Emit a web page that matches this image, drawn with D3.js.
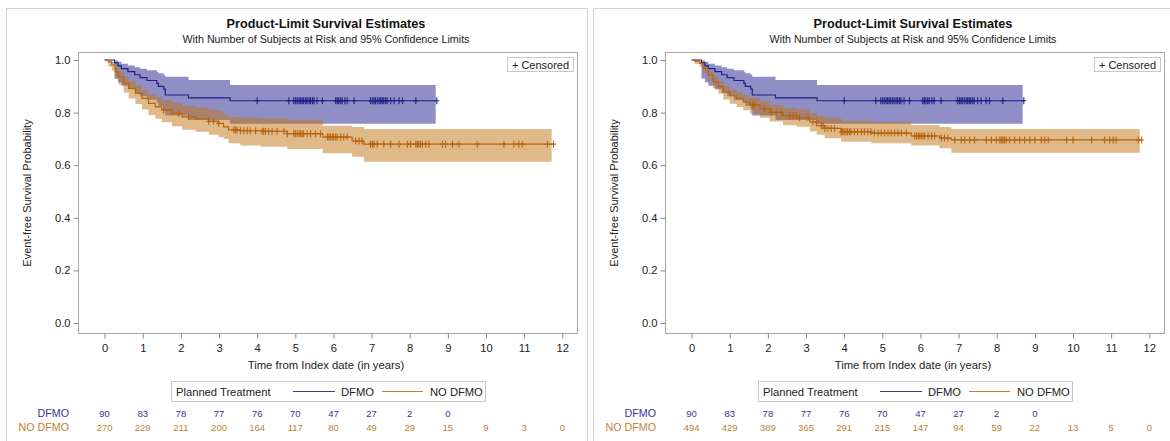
<!DOCTYPE html>
<html><head><meta charset="utf-8">
<script src="https://cdn.jsdelivr.net/npm/d3@7"></script>
<style>body{margin:0;background:#fff;} svg{display:block;font-family:"Liberation Sans",Arial,sans-serif;}</style>
</head><body><svg id="c" width="1170" height="441"></svg>
<script>
// ---------- data ----------
const timeTicks = [0,1,2,3,4,5,6,7,8,9,10,11,12];
const survTicks = [0,0.2,0.4,0.6,0.8,1.0];
const groupNames = ["DFMO","NO DFMO"];
const titleText = "Product-Limit Survival Estimates";
const subtitleText = "With Number of Subjects at Risk and 95% Confidence Limits";
const xTitle = "Time from Index date (in years)";
const yTitle = "Event-free Survival Probability";
const legendTitle = "Planned Treatment";

// DFMO (same in both panels)
const dfmoTime  = [0, 0.26, 0.35, 0.44, 0.61, 0.79, 0.93, 1.11, 1.37, 1.41, 1.55, 1.59, 2.20, 3.29];
const dfmoSurv  = [1, 0.989, 0.978, 0.967, 0.956, 0.944, 0.933, 0.922, 0.911, 0.900, 0.889, 0.867, 0.856, 0.845];
const dfmoUpper = [1, 0.998, 0.993, 0.986, 0.979, 0.972, 0.967, 0.961, 0.955, 0.950, 0.944, 0.936, 0.924, 0.905];
const dfmoLower = [1, 0.930, 0.915, 0.902, 0.889, 0.875, 0.862, 0.849, 0.837, 0.825, 0.812, 0.789, 0.772, 0.758];
const dfmoLast = 8.72, dfmoBandLast = 8.68;
const dfmoCensored = [4.0, 4.83, 4.96, 5.01, 5.05, 5.1, 5.14, 5.18, 5.22, 5.27, 5.31, 5.36, 5.4, 5.45, 5.49, 5.57, 5.71,
  6.06, 6.1, 6.14, 6.19, 6.23, 6.3, 6.36, 6.54, 6.97, 7.02, 7.06, 7.1, 7.15, 7.2, 7.24, 7.28, 7.32, 7.37, 7.41, 7.5, 7.59,
  7.72, 7.81, 8.16, 8.71];
const dfmoAtRisk = [90,83,78,77,76,70,47,27,2,0];

// NO DFMO, left panel
const leftNoTime  = [0, 0.10, 0.19, 0.28, 0.37, 0.50, 0.63, 0.81, 0.98, 1.15, 1.33, 1.50, 1.77, 2.03, 2.38, 2.73, 2.99, 3.12, 3.25, 3.56, 4.09, 4.79, 5.72, 6.49, 6.80];
const leftNoSurv  = [1, 0.993, 0.981, 0.955, 0.937, 0.911, 0.892, 0.873, 0.854, 0.835, 0.822, 0.810, 0.797, 0.784, 0.776, 0.767, 0.759, 0.746, 0.734, 0.731, 0.729, 0.720, 0.707, 0.692, 0.680];
const leftNoLower = [1, 0.975, 0.960, 0.928, 0.906, 0.876, 0.854, 0.833, 0.812, 0.791, 0.777, 0.763, 0.748, 0.735, 0.727, 0.716, 0.707, 0.700, 0.683, 0.675, 0.670, 0.662, 0.645, 0.632, 0.613];
const leftNoUpper = [1, 0.998, 0.992, 0.972, 0.958, 0.936, 0.920, 0.903, 0.886, 0.869, 0.858, 0.848, 0.837, 0.826, 0.819, 0.811, 0.804, 0.793, 0.782, 0.780, 0.778, 0.772, 0.750, 0.745, 0.738];
const leftNoLast = 11.77, leftNoBandLast = 11.72;
const leftNoCensored = [1.55, 1.94, 2.2, 2.73, 2.86, 2.99, 3.39, 3.43, 3.47, 3.56, 3.65, 3.74, 3.82, 3.96, 4.13, 4.17, 4.22, 4.3,
  4.39, 4.52, 4.7, 4.79, 4.96, 5.0, 5.05, 5.1, 5.14, 5.18, 5.22, 5.31, 5.4, 5.53, 5.66, 5.84, 5.88, 5.92, 5.97, 6.01, 6.06, 6.1,
  6.19, 6.27, 6.36, 6.58, 6.67, 6.75, 6.97, 7.02, 7.06, 7.15, 7.32, 7.5, 7.72, 7.94, 8.02, 8.16, 8.2, 8.24, 8.28, 8.33, 8.42,
  8.5, 8.86, 8.94, 9.12, 9.29, 9.77, 10.47, 10.73, 10.86, 10.95, 11.61, 11.77];
const leftNoAtRisk = [270,229,211,200,164,117,80,49,29,15,9,3,0];

// NO DFMO, right panel
const rightNoTime  = [0, 0.08, 0.21, 0.30, 0.43, 0.56, 0.70, 0.83, 1.00, 1.18, 1.35, 1.53, 1.79, 2.05, 2.40, 2.75, 3.10, 3.28, 3.49, 3.92, 4.71, 5.76, 6.50, 6.81];
const rightNoSurv  = [1, 0.996, 0.987, 0.968, 0.943, 0.918, 0.899, 0.879, 0.864, 0.852, 0.841, 0.829, 0.814, 0.801, 0.788, 0.781, 0.765, 0.750, 0.740, 0.727, 0.722, 0.711, 0.703, 0.696];
const rightNoLower = [1, 0.985, 0.974, 0.951, 0.921, 0.893, 0.872, 0.850, 0.834, 0.821, 0.809, 0.796, 0.780, 0.766, 0.752, 0.746, 0.728, 0.716, 0.702, 0.689, 0.683, 0.675, 0.664, 0.647];
const rightNoUpper = [1, 0.999, 0.993, 0.979, 0.958, 0.937, 0.920, 0.902, 0.888, 0.877, 0.867, 0.856, 0.842, 0.830, 0.818, 0.812, 0.797, 0.788, 0.780, 0.768, 0.764, 0.753, 0.745, 0.738];
const rightNoLast = 11.8, rightNoBandLast = 11.75;
const rightNoCensored = [1.6, 1.65, 1.91, 2.09, 2.22, 2.35, 2.57, 2.66, 2.74, 2.83, 3.05, 3.18, 3.27, 3.4, 3.45, 3.49, 3.57,
  3.66, 3.75, 3.92, 3.96, 4.0, 4.05, 4.09, 4.14, 4.18, 4.27, 4.35, 4.45, 4.53, 4.62, 4.7, 4.79, 4.89, 4.97, 5.06, 5.15, 5.23,
  5.32, 5.41, 5.5, 5.63, 5.85, 5.9, 5.94, 5.98, 6.02, 6.07, 6.11, 6.2, 6.29, 6.37, 6.55, 6.63, 6.72, 6.9, 7.07, 7.16, 7.29,
  7.42, 7.73, 7.86, 7.99, 8.08, 8.12, 8.16, 8.2, 8.25, 8.34, 8.47, 8.6, 8.73, 8.87, 9.0, 9.17, 9.26, 9.35, 9.83, 10.0,
  10.49, 10.83, 10.96, 11.05, 11.13, 11.71, 11.8];
const rightNoAtRisk = [494,429,389,365,291,215,147,94,59,22,13,5,0];

// ---------- styles ----------
const C = {
  dfmoLine: "#1f1f85", dfmoBand: "#20208c", dfmoText: "#36369a",
  noLine: "#b8640f", noBand: "#c07412", noText: "#c07f34",
  frame: "#a8a8a8", panel: "#d2d2d2", text: "#222"
};

const svg = d3.select("#c");

function stepAt(times, vals, t){
  const i = d3.bisectRight(times, t) - 1;
  return vals[Math.max(0, i)];
}

function drawPanel(dx, noTime, noSurv, noLower, noUpper, noLast, noBandLast, noCens, noRisk){
  const g = svg.append("g").attr("transform", `translate(${dx},0)`);
  g.append("rect").attr("x",6.5).attr("y",8.5).attr("width",581).attr("height",460)
    .attr("fill","#fff").attr("stroke",C.panel);

  const fx0 = 78.5, fx1 = 577.5, fy0 = 52.5, fy1 = 333.5;
  const x = d3.scaleLinear().domain([0,12]).range([104.6, 562.3]);
  const y = d3.scaleLinear().domain([0,1]).range([323, 60]);

  // titles
  const cx = (fx0+fx1)/2 - 2;
  g.append("text").attr("x",cx).attr("y",28).attr("text-anchor","middle")
    .attr("font-size",12.7).attr("font-weight","bold").attr("fill","#111").text(titleText);
  g.append("text").attr("x",cx).attr("y",43).attr("text-anchor","middle")
    .attr("font-size",10.7).attr("fill",C.text).text(subtitleText);

  // frame
  g.append("rect").attr("x",fx0).attr("y",fy0).attr("width",fx1-fx0).attr("height",fy1-fy0)
    .attr("fill","#fff").attr("stroke",C.frame);

  // axes
  const yAxis = d3.axisLeft(y).tickValues(survTicks).tickFormat(d3.format(".1f")).tickSize(5).tickPadding(3);
  const ya = g.append("g").attr("transform",`translate(${fx0},0)`).call(yAxis);
  const xAxis = d3.axisBottom(x).tickValues(timeTicks).tickSize(5).tickPadding(6);
  const xa = g.append("g").attr("transform",`translate(0,${fy1})`).call(xAxis);
  [ya, xa].forEach(a => {
    a.select(".domain").remove();
    a.selectAll("line").attr("stroke","#888");
    a.selectAll("text").attr("font-size",11.2).attr("fill",C.text).attr("font-family","Liberation Sans, Arial, sans-serif");
  });

  g.append("text").attr("x",cx).attr("y",369).attr("text-anchor","middle")
    .attr("font-size",11.3).attr("fill",C.text).text(xTitle);
  g.append("text").attr("transform",`translate(31,${(fy0+fy1)/2}) rotate(-90)`).attr("text-anchor","middle")
    .attr("font-size",11).attr("fill",C.text).text(yTitle);

  // clip
  const clipId = "clip" + dx;
  g.append("clipPath").attr("id",clipId).append("rect")
    .attr("x",fx0).attr("y",fy0).attr("width",fx1-fx0).attr("height",fy1-fy0);
  const pg = g.append("g").attr("clip-path",`url(#${clipId})`);

  const series = [
    {t:dfmoTime, s:dfmoSurv, lo:dfmoLower, hi:dfmoUpper, last:dfmoLast, bandLast:dfmoBandLast, cens:dfmoCensored, line:C.dfmoLine, band:C.dfmoBand},
    {t:noTime, s:noSurv, lo:noLower, hi:noUpper, last:noLast, bandLast:noBandLast, cens:noCens, line:C.noLine, band:C.noBand}
  ];

  // bands
  series.forEach(se => {
    const pts = se.t.map((t,i) => ({t, s:se.s[i], lo:se.lo[i], hi:se.hi[i]}));
    const lastP = pts[pts.length-1];
    pts.push({t:se.bandLast, s:lastP.s, lo:lastP.lo, hi:lastP.hi});
    const area = d3.area().curve(d3.curveStepAfter)
      .x(d => x(d.t)).y0(d => y(d.lo)).y1(d => y(d.hi));
    pg.append("path").attr("d", area(pts)).attr("fill", se.band).attr("fill-opacity",0.5).attr("stroke","none");
  });

  // lines + censor marks
  series.forEach(se => {
    const pts = se.t.map((t,i) => ({t, s:se.s[i]}));
    pts.push({t:se.last, s:se.s[se.s.length-1]});
    const line = d3.line().curve(d3.curveStepAfter).x(d => x(d.t)).y(d => y(d.s));
    pg.append("path").attr("d", line(pts)).attr("fill","none").attr("stroke",se.line).attr("stroke-width",1.2);
    const hx = 2.5, hy = 3.5;
    pg.append("g").selectAll("path").data(se.cens).join("path")
      .attr("d", t => {
        const px = x(t), py = y(stepAt(se.t, se.s, t));
        return `M${px-hx},${py}H${px+hx}M${px},${py-hy}V${py+hy}`;
      })
      .attr("stroke", se.line).attr("stroke-width",1.1).attr("fill","none");
  });

  // censored legend
  g.append("rect").attr("x",507.5).attr("y",57.5).attr("width",66).attr("height",14)
    .attr("fill","#fff").attr("stroke","#c8c8c8");
  g.append("text").attr("x",540.5).attr("y",68.5).attr("text-anchor","middle")
    .attr("font-size",11).attr("fill",C.text).text("+ Censored");

  // group legend
  g.append("rect").attr("x",171.5).attr("y",381.5).attr("width",314).attr("height",20)
    .attr("fill","#fff").attr("stroke","#c8c8c8");
  g.append("text").attr("x",176).attr("y",395.5).attr("font-size",11.2).attr("fill",C.text).text(legendTitle);
  g.append("line").attr("x1",293).attr("x2",335).attr("y1",391.5).attr("y2",391.5).attr("stroke","#3a3a98").attr("stroke-width",1.2);
  g.append("text").attr("x",341).attr("y",395.5).attr("font-size",11.2).attr("fill",C.text).text(groupNames[0]);
  g.append("line").attr("x1",382).attr("x2",423).attr("y1",391.5).attr("y2",391.5).attr("stroke","#c87a2c").attr("stroke-width",1.2);
  g.append("text").attr("x",430).attr("y",395.5).attr("font-size",11.2).attr("fill",C.text).text(groupNames[1]);

  // at-risk table
  const rows = [
    {name:groupNames[0], vals:dfmoAtRisk, col:C.dfmoText, yy:417},
    {name:groupNames[1], vals:noRisk, col:C.noText, yy:431}
  ];
  rows.forEach(r => {
    g.append("text").attr("x",69).attr("y",r.yy).attr("text-anchor","end")
      .attr("font-size",10.7).attr("fill",r.col).text(r.name);
    g.append("g").selectAll("text").data(r.vals).join("text")
      .attr("x",(d,i) => x(timeTicks[i])).attr("y",r.yy-0.5).attr("text-anchor","middle")
      .attr("font-size",9.5).attr("fill",r.col).text(d => d);
  });
}

drawPanel(0, leftNoTime, leftNoSurv, leftNoLower, leftNoUpper, leftNoLast, leftNoBandLast, leftNoCensored, leftNoAtRisk);
drawPanel(587, rightNoTime, rightNoSurv, rightNoLower, rightNoUpper, rightNoLast, rightNoBandLast, rightNoCensored, rightNoAtRisk);
</script>
</body></html>
